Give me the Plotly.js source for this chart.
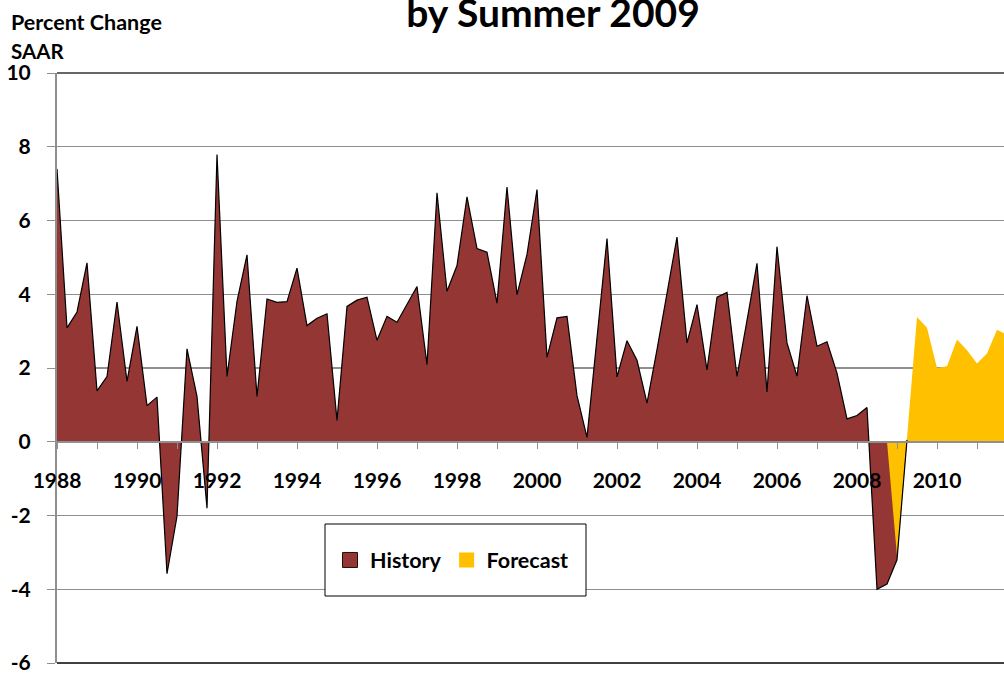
<!DOCTYPE html>
<html>
<head>
<meta charset="utf-8">
<script src="https://cdn.plot.ly/plotly-3.0.1.min.js"></script>
<style>html,body{margin:0;padding:0;background:#fff}#chart{width:1004px;height:673px}</style>
</head>
<body>
<div id="chart"></div>
<script>
// ---- data (quarterly, percent change SAAR) ----
const historyStartYear = 1988;      // first history point: 1988 Q1
const historyValues = [
  7.40, 3.09, 3.52, 4.85,   // 1988
  1.38, 1.77, 3.79, 1.64,   // 1989
  3.13, 0.98, 1.21, -3.58,  // 1990
  -2.02, 2.52, 1.23, -1.80, // 1991
  7.79, 1.77, 3.81, 5.07,   // 1992
  1.23, 3.87, 3.78, 3.80,   // 1993
  4.71, 3.15, 3.35, 3.47,   // 1994
  0.58, 3.67, 3.84, 3.92,   // 1995
  2.75, 3.40, 3.24, 3.72,   // 1996
  4.21, 2.09, 6.75, 4.08,   // 1997
  4.78, 6.64, 5.24, 5.14,   // 1998
  3.76, 6.91, 3.99, 5.08,   // 1999
  6.84, 2.29, 3.36, 3.40,   // 2000
  1.25, 0.12, 2.80, 5.51,   // 2001
  1.76, 2.74, 2.21, 1.05,   // 2002
  2.50, 4.01, 5.55, 2.68,   // 2003
  3.72, 1.95, 3.92, 4.05,   // 2004
  1.77, 3.29, 4.84, 1.35,   // 2005
  5.29, 2.68, 1.78, 3.96,   // 2006
  2.59, 2.71, 1.86, 0.62,   // 2007
  0.71, 0.93, -4.00, -3.86, // 2008
  -3.20, 0.05               // 2009 Q1-Q2
];
const forecastStartYear = 2008.75;  // first forecast point: 2008 Q4
const forecastValues = [
  0.00,                     // 2008 Q4
  -3.10, 0.10, 3.38, 3.09,  // 2009
  2.00, 2.05, 2.77, 2.48,   // 2010
  2.12, 2.39, 3.04, 2.90    // 2011
];
const seriesNames = ['History', 'Forecast'];
const seriesColors = ['#943634', '#FFC000'];
const yearTicks = [1988,1989,1990,1991,1992,1993,1994,1995,1996,1997,1998,1999,
                   2000,2001,2002,2003,2004,2005,2006,2007,2008,2009,2010,2011];
const yearLabels = ['1988','','1990','','1992','','1994','','1996','','1998','',
                    '2000','','2002','','2004','','2006','','2008','','2010',''];
const yTicks = [-6,-4,-2,0,2,4,6,8,10];
const yTickLabels = ['-6','-4','-2','0','2','4','6','8','10'];
const titleText = 'by Summer 2009';
const yUnitsText = 'Percent Change';
const yUnitsText2 = 'SAAR';

// ---- build ----
const toX = (start, n) => Array.from({length: n}, (_, k) => start + k * 0.25);
const hx = toX(historyStartYear, historyValues.length);
const fx = toX(forecastStartYear, forecastValues.length);

const FONT = 'Lato, "Open Sans", sans-serif';
const gridGray = '#8f8f8f';
const tickFont = {family: FONT, size: 21, color: '#000', weight: 700};

const traces = [
  {x: hx, y: historyValues, type: 'scatter', mode: 'lines', fill: 'tozeroy',
   fillcolor: seriesColors[0], line: {width: 0, color: seriesColors[0]},
   showlegend: false, hoverinfo: 'skip'},
  {x: fx, y: forecastValues, type: 'scatter', mode: 'lines', fill: 'tozeroy',
   fillcolor: seriesColors[1], line: {width: 0, color: seriesColors[1]},
   showlegend: false, hoverinfo: 'skip'},
  {x: hx, y: historyValues, type: 'scatter', mode: 'lines',
   line: {width: 1.2, color: '#000'}, showlegend: false, hoverinfo: 'skip'},
  {x: [null], y: [null], type: 'scatter', mode: 'markers', name: seriesNames[0],
   marker: {symbol: 'square', size: 15, color: seriesColors[0], line: {width: 1, color: '#2b0c0b'}}},
  {x: [null], y: [null], type: 'scatter', mode: 'markers', name: seriesNames[1],
   marker: {symbol: 'square', size: 15, color: seriesColors[1], line: {width: 0}}}
];

const plotL = 57, plotR = 1004, plotT = 73, plotB = 663;
const pw = plotR - plotL, ph = plotB - plotT;
const px2x = p => (p - plotL) / pw;
const py2y = p => (plotB - p) / ph;

const layout = {
  width: 1004, height: 673,
  margin: {l: plotL, r: 1004 - plotR, t: plotT, b: 673 - plotB, pad: 0},
  paper_bgcolor: '#fff', plot_bgcolor: '#fff',
  title: {text: titleText, font: {family: FONT, size: 39, color: '#000', weight: 700},
          xref: 'container', x: 553/1004, xanchor: 'center',
          yref: 'container', y: 1 - 13/673, yanchor: 'middle'},
  xaxis: {range: [1988, 1988 + (plotR - plotL) / 40], anchor: 'free', position: 6/16,
          tickmode: 'array', tickvals: yearTicks, ticktext: yearLabels,
          ticks: 'outside', ticklen: 6, tickwidth: 1, tickcolor: gridGray,
          showline: true, linecolor: gridGray, linewidth: 2,
          showgrid: false, zeroline: false, ticklabelstandoff: 14,
          tickfont: tickFont, fixedrange: true},
  yaxis: {range: [-6, 10], tickmode: 'array', tickvals: yTicks, ticktext: yTickLabels,
          ticks: 'outside', ticklen: 8, tickwidth: 1, tickcolor: gridGray,
          showline: true, linecolor: gridGray, linewidth: 2,
          showgrid: true, gridcolor: gridGray, gridwidth: 1.3, zeroline: false,
          ticklabelstandoff: 12, ticklabeloverflow: 'allow',
          tickfont: tickFont, fixedrange: true},
  showlegend: true,
  legend: {orientation: 'h', x: px2x(330), xanchor: 'left', y: py2y(560), yanchor: 'middle',
           bgcolor: 'rgba(0,0,0,0)', borderwidth: 0,
           font: {family: FONT, size: 21.5, color: '#000', weight: 700}},
  shapes: [
    {type: 'line', xref: 'paper', yref: 'paper', x0: 0, x1: 1, y0: 1, y1: 1,
     line: {color: '#333', width: 1.5}, layer: 'above'},
    {type: 'line', xref: 'paper', yref: 'paper', x0: 0, x1: 1, y0: 0, y1: 0,
     line: {color: '#000', width: 1.5}, layer: 'above'},
    {type: 'rect', xref: 'paper', yref: 'paper', x0: px2x(325), x1: px2x(586),
     y0: py2y(596), y1: py2y(524), fillcolor: '#fff', line: {color: '#000', width: 1}, layer: 'above'}
  ],
  annotations: [
    {text: yUnitsText, xref: 'paper', yref: 'paper', x: px2x(9), y: py2y(22),
     xanchor: 'left', yanchor: 'middle', showarrow: false,
     font: {family: FONT, size: 21.5, color: '#000', weight: 700}},
    {text: yUnitsText2, xref: 'paper', yref: 'paper', x: px2x(9), y: py2y(51),
     xanchor: 'left', yanchor: 'middle', showarrow: false,
     font: {family: FONT, size: 20.5, color: '#000', weight: 700}}
  ]
};

Plotly.newPlot('chart', traces, layout, {displayModeBar: false, staticPlot: true});
</script>
</body>
</html>
